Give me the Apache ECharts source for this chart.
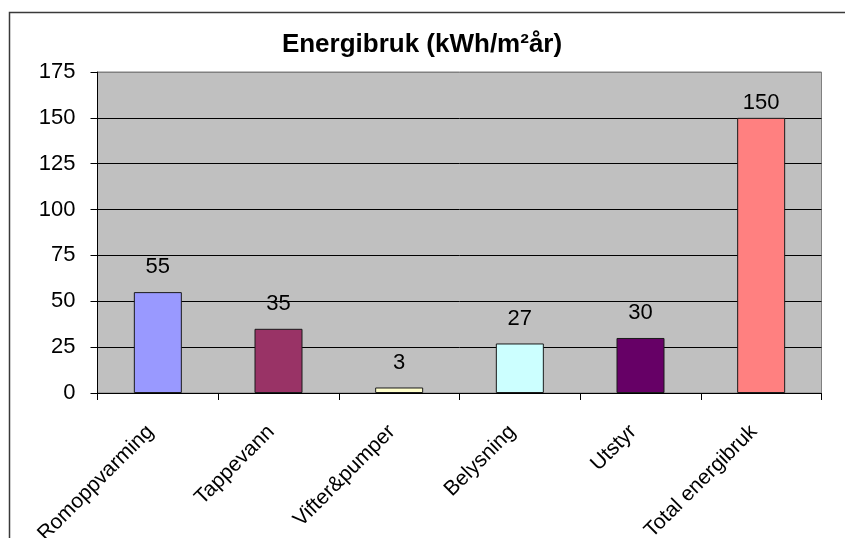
<!DOCTYPE html>
<html>
<head>
<meta charset="utf-8">
<script src="https://cdn.jsdelivr.net/npm/echarts@6/dist/echarts.min.js"></script>
<style>
  html, body { margin: 0; padding: 0; background: #ffffff; }
  #chart { width: 845px; height: 538px; }
</style>
</head>
<body>
<div id="chart"></div>
<script>
// Energy use per end-use category, kWh per m² per year
const categories = ['Romoppvarming', 'Tappevann', 'Vifter&pumper', 'Belysning', 'Utstyr', 'Total energibruk'];
const values = [55, 35, 3, 27, 30, 150];
const barColors = ['#9999FF', '#993366', '#FFFFCC', '#CCFFFF', '#660066', '#FF8080'];
const yTicks = { min: 0, max: 175, interval: 25 };
const titleText = 'Energibruk (kWh/m²år)';

const sans = '"Liberation Sans", Arial, sans-serif';

const chart = echarts.init(document.getElementById('chart'), null, { renderer: 'canvas' });

// the total bar's label sits closer to the bar so it stays inside the plot
const seriesData = values.map((v, i) => ({
  value: v,
  itemStyle: { color: barColors[i] },
  label: { distance: i === values.length - 1 ? 4 : 14 }
}));

chart.setOption({
  animation: false,
  backgroundColor: '#ffffff',
  title: {
    text: titleText,
    left: 417,
    textAlign: 'center',
    top: 27,
    textStyle: {
      fontFamily: sans,
      fontWeight: 'bold',
      fontSize: 26,
      color: '#000000'
    }
  },
  graphic: [{
    type: 'rect',
    silent: true,
    shape: { x: 9.5, y: 12.5, width: 900, height: 600 },
    style: { fill: 'none', stroke: '#3a3a3a', lineWidth: 1.5 },
    z: 100
  }],
  grid: {
    left: 97.5,
    right: 23.5,
    top: 72,
    bottom: 145,
    outerBoundsMode: 'none',
    containLabel: false,
    show: true,
    backgroundColor: '#C0C0C0',
    borderColor: '#808080',
    borderWidth: 1
  },
  xAxis: {
    type: 'category',
    data: categories,
    axisLine: { show: true, lineStyle: { color: '#000000', width: 1 } },
    axisTick: { show: true, length: 7, alignWithLabel: false, lineStyle: { color: '#000000' } },
    axisLabel: {
      rotate: 45,
      margin: 43,
      interval: 0,
      verticalAlign: 'bottom',
      fontFamily: sans,
      fontSize: 21,
      color: '#000000'
    }
  },
  yAxis: {
    type: 'value',
    min: yTicks.min,
    max: yTicks.max,
    interval: yTicks.interval,
    axisLine: { show: true, lineStyle: { color: '#000000', width: 1 } },
    axisTick: { show: true, length: 7, lineStyle: { color: '#000000' } },
    axisLabel: {
      margin: 22,
      fontFamily: sans,
      fontSize: 22,
      color: '#000000'
    },
    splitLine: {
      show: true,
      lineStyle: {
        color: ['#000000', '#000000', '#000000', '#000000', '#000000', '#000000', '#000000', '#808080'],
        width: 1
      }
    }
  },
  series: [{
    type: 'bar',
    data: seriesData,
    barWidth: 48,
    itemStyle: { borderColor: '#1a1a1a', borderWidth: 1 },
    label: {
      show: true,
      position: 'top',
      fontFamily: sans,
      fontSize: 22,
      color: '#000000'
    }
  }]
});
</script>
</body>
</html>
